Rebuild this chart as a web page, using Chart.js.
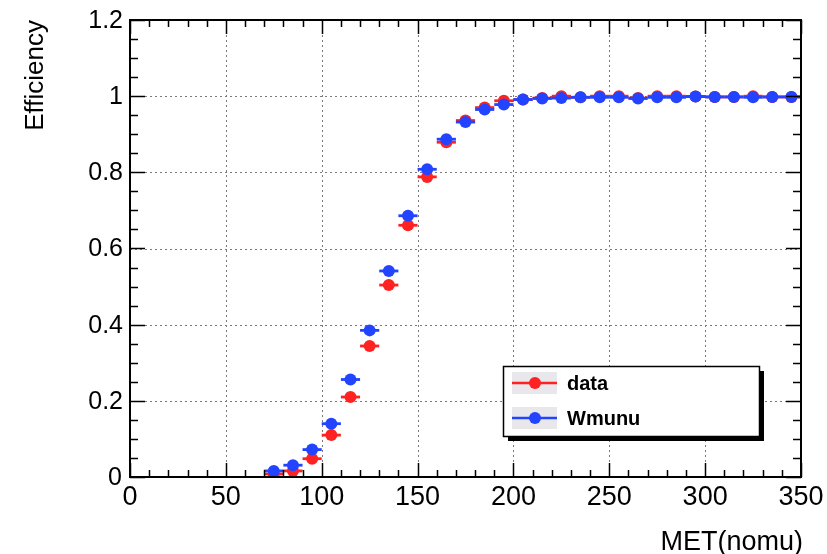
<!DOCTYPE html>
<html>
<head>
<meta charset="utf-8">
<script src="https://cdn.jsdelivr.net/npm/chart.js@4.4.1/dist/chart.umd.min.js"></script>
<style>
html,body{margin:0;padding:0;background:#fff;}
canvas{display:block;}
</style>
</head>
<body>
<canvas id="c" width="827" height="554"></canvas>
<script>
// ---- data ----
const binCenters = [75,85,95,105,115,125,135,145,155,165,175,185,195,205,215,225,235,245,255,265,275,285,295,305,315,325,335,345];
const binHalfWidth = [5,5,5,5,5,5,5,5,5,5,5,5,5,5,5,5,5,5,5,5,5,5,5,5,5,5,5,5];
const dataEff = [0.008,0.016,0.048,0.110,0.210,0.344,0.504,0.661,0.788,0.879,0.936,0.970,0.988,0.991,0.995,1.000,0.997,1.000,1.000,0.995,1.000,1.000,0.999,0.998,0.998,1.000,0.998,0.998];
const dataErr = [0.004,0.006,0.008,0.010,0.012,0.013,0.013,0.012,0.010,0.008,0.006,0.005,0.004,0.003,0.003,0.002,0.002,0.002,0.002,0.002,0.002,0.002,0.002,0.002,0.002,0.002,0.002,0.002];
const wmunuEff = [0.016,0.031,0.072,0.140,0.256,0.385,0.541,0.686,0.808,0.887,0.932,0.965,0.978,0.991,0.994,0.995,0.997,0.997,0.997,0.994,0.997,0.997,0.999,0.998,0.998,0.997,0.998,0.998];
const wmunuErr = [0.004,0.005,0.007,0.009,0.010,0.011,0.011,0.010,0.009,0.007,0.005,0.004,0.003,0.002,0.002,0.002,0.002,0.002,0.002,0.002,0.002,0.002,0.002,0.002,0.002,0.002,0.002,0.002];
const xTicks = [0,50,100,150,200,250,300,350];
const yTicks = [0,0.2,0.4,0.6,0.8,1,1.2];
const yTickLabels = ['0','0.2','0.4','0.6','0.8','1','1.2'];
const seriesNames = ['data','Wmunu'];
const seriesColors = ['#ff2222','#2244ff'];
const xTitle = 'MET(nomu)';
const yTitle = 'Efficiency';

const FONT = "'Liberation Sans', Arial, Helvetica, sans-serif";

function pts(ys, errs){
  return binCenters.map((x,i)=>({x:x, y:ys[i], ex:binHalfWidth[i], ey:errs[i]}));
}

const rootPlugin = {
  id:'rootStyle',
  beforeDatasetsDraw(chart){
    const ctx = chart.ctx, xs = chart.scales.x, ys = chart.scales.y;
    const a = chart.chartArea;
    ctx.save();
    ctx.strokeStyle = '#7a7a7a';
    ctx.lineWidth = 1;
    ctx.setLineDash([2,3]);
    xTicks.forEach(v=>{
      if (v===0 || v===350) return;
      const px = Math.round(xs.getPixelForValue(v))+0.5;
      ctx.beginPath(); ctx.moveTo(px,a.top); ctx.lineTo(px,a.bottom); ctx.stroke();
    });
    yTicks.forEach(v=>{
      if (v===0 || v===1.2) return;
      const py = Math.round(ys.getPixelForValue(v))+0.5;
      ctx.beginPath(); ctx.moveTo(a.left,py); ctx.lineTo(a.right,py); ctx.stroke();
    });
    ctx.restore();
  },
  beforeDatasetDraw(chart, args){
    const ctx = chart.ctx, xs = chart.scales.x, ys = chart.scales.y;
    const ds = chart.data.datasets[args.index];
    ctx.save();
    ctx.strokeStyle = ds.borderColor;
    ctx.lineWidth = 2.8;
    ds.data.forEach(p=>{
      const cx = xs.getPixelForValue(p.x), cy = ys.getPixelForValue(p.y);
      const x1 = xs.getPixelForValue(p.x-p.ex), x2 = xs.getPixelForValue(p.x+p.ex);
      const y1 = ys.getPixelForValue(Math.max(0,p.y-p.ey)), y2 = ys.getPixelForValue(Math.min(1,p.y+p.ey));
      ctx.beginPath(); ctx.moveTo(x1,cy); ctx.lineTo(x2,cy); ctx.stroke();
      ctx.beginPath(); ctx.moveTo(cx,y1); ctx.lineTo(cx,y2); ctx.stroke();
    });
    ctx.restore();
  },
  afterDraw(chart){
    const ctx = chart.ctx, xs = chart.scales.x, ys = chart.scales.y;
    const a = chart.chartArea;
    ctx.save();
    // frame
    ctx.strokeStyle = '#000';
    ctx.lineWidth = 2;
    ctx.strokeRect(a.left, a.top, a.right-a.left, a.bottom-a.top);
    ctx.lineWidth = 1.5;
    // x ticks (every 10, major every 50)
    for (let v=0; v<=350; v+=10){
      const px = Math.round(xs.getPixelForValue(v))+0.5;
      const len = (v%50===0)?14:7;
      ctx.beginPath();
      ctx.moveTo(px,a.bottom); ctx.lineTo(px,a.bottom-len);
      ctx.moveTo(px,a.top); ctx.lineTo(px,a.top+len);
      ctx.stroke();
    }
    // y ticks (every 0.05, major every 0.2)
    for (let i=0; i<=24; i++){
      const v = i*0.05;
      const py = Math.round(ys.getPixelForValue(v))+0.5;
      const len = (i%4===0)?15:8;
      ctx.beginPath();
      ctx.moveTo(a.left,py); ctx.lineTo(a.left+len,py);
      ctx.moveTo(a.right,py); ctx.lineTo(a.right-len,py);
      ctx.stroke();
    }
    // tick labels
    ctx.fillStyle = '#000';
    ctx.font = '27px ' + FONT;
    ctx.textAlign = 'center';
    ctx.textBaseline = 'top';
    xTicks.forEach(v=>{
      const px = xs.getPixelForValue(v);
      ctx.fillText(String(v), px, a.bottom+7);
    });
    ctx.font = '25px ' + FONT;
    ctx.textAlign = 'right';
    ctx.textBaseline = 'middle';
    yTicks.forEach((v,i)=>{
      const py = ys.getPixelForValue(v);
      const dx = (v===0)?8:7;
      ctx.fillText(yTickLabels[i], a.left-dx, py+1);
    });
    // axis titles
    ctx.font = '27px ' + FONT;
    ctx.textAlign = 'right';
    ctx.textBaseline = 'alphabetic';
    ctx.fillText(xTitle, a.right+2, 550);
    ctx.save();
    ctx.translate(43, a.top);
    ctx.rotate(-Math.PI/2);
    ctx.font = '26px ' + FONT;
    ctx.textAlign = 'right';
    ctx.textBaseline = 'alphabetic';
    ctx.fillText(yTitle, 0, 0);
    ctx.restore();
    // legend
    const lx = 503, ly = 366, lw = 256, lh = 70;
    ctx.fillStyle = '#000';
    ctx.fillRect(lx+5, ly+5, lw, lh);
    ctx.fillStyle = '#fff';
    ctx.fillRect(lx, ly, lw, lh);
    ctx.strokeStyle = '#000';
    ctx.lineWidth = 1.5;
    ctx.strokeRect(lx+0.5, ly+0.5, lw, lh);
    const rows = [383, 418];
    seriesNames.forEach((name,i)=>{
      const cy = rows[i];
      ctx.fillStyle = '#e8e8ec';
      ctx.fillRect(512, cy-11, 45, 22);
      ctx.strokeStyle = seriesColors[i];
      ctx.lineWidth = 2.5;
      ctx.beginPath(); ctx.moveTo(512,cy); ctx.lineTo(557,cy); ctx.stroke();
      ctx.fillStyle = seriesColors[i];
      ctx.beginPath(); ctx.arc(535,cy,6,0,Math.PI*2); ctx.fill();
      ctx.fillStyle = '#000';
      ctx.font = 'bold 20px ' + FONT;
      ctx.textAlign = 'left';
      ctx.textBaseline = 'middle';
      ctx.fillText(name, 567, cy+1);
    });
    ctx.restore();
  }
};

new Chart(document.getElementById('c'), {
  type:'scatter',
  data:{
    datasets:[
      {label:seriesNames[0], order:1, data:pts(dataEff,dataErr), backgroundColor:seriesColors[0], borderColor:seriesColors[0], pointRadius:6, pointBorderWidth:0, showLine:false},
      {label:seriesNames[1], order:0, data:pts(wmunuEff,wmunuErr), backgroundColor:seriesColors[1], borderColor:seriesColors[1], pointRadius:6, pointBorderWidth:0, showLine:false}
    ]
  },
  options:{
    responsive:false,
    animation:false,
    devicePixelRatio:1,
    layout:{padding:{left:0,right:26,top:20,bottom:0}},
    plugins:{legend:{display:false}, tooltip:{enabled:false}},
    scales:{
      x:{type:'linear', min:0, max:350, ticks:{display:false, stepSize:50}, grid:{display:false}, border:{display:false},
         afterFit(s){ s.height = 77; }},
      y:{type:'linear', min:0, max:1.2, ticks:{display:false, stepSize:0.2}, grid:{display:false}, border:{display:false},
         afterFit(s){ s.width = 130; }}
    }
  },
  plugins:[rootPlugin]
});
</script>
</body>
</html>
